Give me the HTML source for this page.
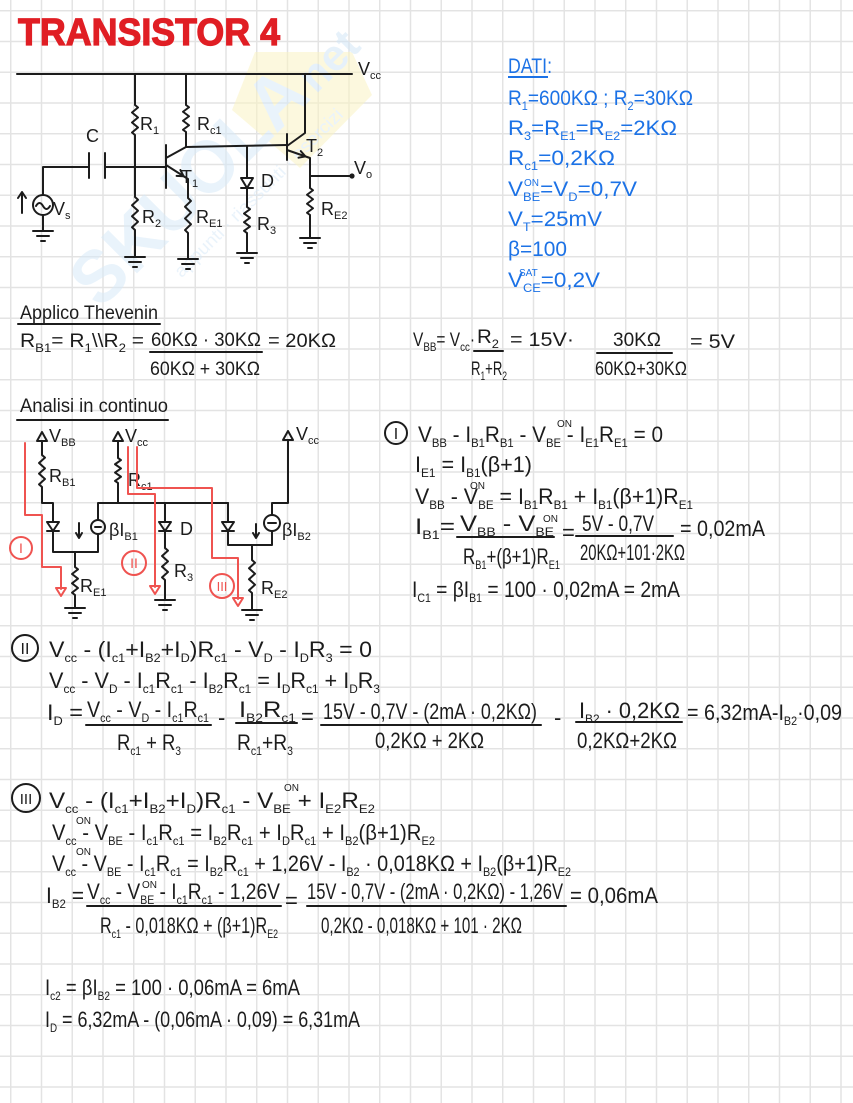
<!DOCTYPE html>
<html><head><meta charset="utf-8">
<style>
html,body{margin:0;padding:0;}
body{width:853px;height:1103px;overflow:hidden;background-color:#fff;
background-image:linear-gradient(90deg,#e3e3e3 1.4px,transparent 1.4px),linear-gradient(#e3e3e3 1.4px,transparent 1.4px);
background-size:30.75px 30.75px;background-position:10px 10px;}
svg{position:absolute;left:0;top:0;}
text{font-family:"Liberation Sans",sans-serif;}
.e{font-size:22px;fill:#1c1c1c;}
.m{font-size:19px;fill:#1c1c1c;}
.c{font-size:18px;fill:#1c1c1c;}
.b{font-size:21px;fill:#1c72e6;}
.s{font-size:12px;baseline-shift:-5px;}
.cs{font-size:11px;baseline-shift:-4px;}
.on{font-size:10px;fill:#1c1c1c;}
.w{fill:none;stroke:#1c1c1c;stroke-width:2;stroke-linecap:round;stroke-linejoin:round;}
.r{fill:none;stroke:#ef5350;stroke-width:2;stroke-linecap:round;stroke-linejoin:round;}
</style></head>
<body>
<svg width="853" height="1103" viewBox="0 0 853 1103" xmlns="http://www.w3.org/2000/svg">
<defs>
<path id="rz" d="M0 0 l3 2.5 l-6 5 l6 5 l-6 5 l6 5 l-6 5 l3 2.5" fill="none" stroke="#1c1c1c" stroke-width="2" stroke-linejoin="round" vector-effect="non-scaling-stroke"/>
<path id="gnd" d="M-10 0 H10 M-6 5 H6 M-2 10 H2" fill="none" stroke="#1c1c1c" stroke-width="2" stroke-linecap="round"/>
</defs>

<!-- watermark -->
<g opacity="0.55">
<polygon points="255,52 352,52 372,95 300,168 232,110" fill="#fbf4c4"/>
<g transform="rotate(-45 185 190)">
<text x="40" y="215" font-size="74" font-weight="bold" fill="#d8eaf8" textLength="300" lengthAdjust="spacingAndGlyphs">SKUOLA</text>
<text x="345" y="215" font-size="44" font-weight="bold" fill="#d3e6f6">net</text>
<text x="120" y="250" font-size="18" fill="#d9eaf8" textLength="230" lengthAdjust="spacingAndGlyphs">appunti · riassunti · esercizi</text>
</g>
</g>

<!-- title -->
<text x="18" y="45" font-size="38" font-weight="bold" fill="#e01e24" stroke="#e01e24" stroke-width="1.2" textLength="262" lengthAdjust="spacingAndGlyphs">TRANSISTOR 4</text>

<!-- ===== Circuit 1 ===== -->
<path class="w" d="M17 74 H352"/>
<path class="w" d="M135 74 V105 M135 135 V197 M135 230 V257"/>
<use href="#rz" transform="translate(135 105)"/>
<use href="#rz" transform="translate(135 197) scale(1 1.1)"/>
<use href="#gnd" transform="translate(135 257)"/>
<path class="w" d="M186 74 V105 M186 132 V147 L287 145"/>
<use href="#rz" transform="translate(186 105) scale(1 0.9)"/>
<path class="w" d="M43 195 V167 H89 M89 153 V178 M105 153 V178 M105 167 H166"/>
<circle cx="43" cy="205" r="10" class="w"/>
<path class="w" d="M36 206 q3.5 -6 7 0 t7 0" stroke-width="1.6"/>
<path class="w" d="M43 215 V230"/>
<use href="#gnd" transform="translate(43 231)"/>
<path class="w" d="M22 213 V193 M18 198 L22 192 L26 198"/>
<path class="w" d="M166 145 V188" stroke-width="2.6"/>
<path class="w" d="M166 158 L186 147 M166 165 L188 179 V198 M188 233 V259"/>
<path class="w" d="M180.4 170 L183.6 176.2 L176.6 175.9"/>
<use href="#rz" transform="translate(188 198) scale(1 1.167)"/>
<use href="#gnd" transform="translate(188 259)"/>
<path class="w" d="M247 146 V178 M241 178 H253 L247 188 Z M241 188 H253 M247 188 V207 M247 233 V253"/>
<use href="#rz" transform="translate(247 207) scale(1 0.867)"/>
<use href="#gnd" transform="translate(247 253)"/>
<path class="w" d="M287 134 V160" stroke-width="2.6"/>
<path class="w" d="M287 146 L305 133 V74 M287 150 L310 158 V188 M310 215 V238 M310 176 H352"/>
<path class="w" d="M300.8 151.1 L305.4 156.4 L298.5 157.7"/>
<use href="#rz" transform="translate(310 188) scale(1 0.9)"/>
<use href="#gnd" transform="translate(310 238)"/>
<circle cx="352" cy="176" r="2.6" fill="#1c1c1c"/>

<text class="c" x="358" y="75">V<tspan class="cs">cc</tspan></text>
<text class="c" x="140" y="130">R<tspan class="cs">1</tspan></text>
<text class="c" x="197" y="130">R<tspan class="cs">c1</tspan></text>
<text class="c" x="86" y="142" font-size="20">C</text>
<text class="c" x="181" y="183">T<tspan class="cs">1</tspan></text>
<text class="c" x="261" y="187">D</text>
<text class="c" x="306" y="152">T<tspan class="cs">2</tspan></text>
<text class="c" x="354" y="174">V<tspan class="cs">o</tspan></text>
<text class="c" x="53" y="215" font-size="20">V<tspan class="cs">s</tspan></text>
<text class="c" x="142" y="223">R<tspan class="cs">2</tspan></text>
<text class="c" x="196" y="223">R<tspan class="cs">E1</tspan></text>
<text class="c" x="257" y="230">R<tspan class="cs">3</tspan></text>
<text class="c" x="321" y="215">R<tspan class="cs">E2</tspan></text>

<!-- ===== DATI ===== -->
<text class="b" x="508" y="73" font-size="18" textLength="44" lengthAdjust="spacingAndGlyphs">DATI:</text>
<path d="M508 77 H548" stroke="#1c72e6" stroke-width="2"/>
<text class="b" x="508" y="105" textLength="185" lengthAdjust="spacingAndGlyphs">R<tspan class="s">1</tspan>=600KΩ ; R<tspan class="s">2</tspan>=30KΩ</text>
<text class="b" x="508" y="135" textLength="169" lengthAdjust="spacingAndGlyphs">R<tspan class="s">3</tspan>=R<tspan class="s">E1</tspan>=R<tspan class="s">E2</tspan>=2KΩ</text>
<text class="b" x="508" y="165" textLength="107" lengthAdjust="spacingAndGlyphs">R<tspan class="s">c1</tspan>=0,2KΩ</text>
<text class="b" x="508" y="196" textLength="129" lengthAdjust="spacingAndGlyphs">V<tspan class="s">BE</tspan>=V<tspan class="s">D</tspan>=0,7V</text>
<text x="524" y="186" font-size="10" fill="#1c72e6">ON</text>
<text class="b" x="508" y="226" textLength="94" lengthAdjust="spacingAndGlyphs">V<tspan class="s">T</tspan>=25mV</text>
<text class="b" x="508" y="256" textLength="59" lengthAdjust="spacingAndGlyphs">β=100</text>
<text class="b" x="508" y="287" textLength="92" lengthAdjust="spacingAndGlyphs">V<tspan class="s">CE</tspan>=0,2V</text>
<text x="519" y="276" font-size="10" fill="#1c72e6">SAT</text>

<!-- ===== Thevenin ===== -->
<text class="m" x="20" y="319" textLength="138" lengthAdjust="spacingAndGlyphs">Applico Thevenin</text>
<path class="w" d="M18 324 H160"/>
<text class="m" x="20" y="347" textLength="124" lengthAdjust="spacingAndGlyphs">R<tspan class="s">B1</tspan>= R<tspan class="s">1</tspan>\\R<tspan class="s">2</tspan> =</text>
<text class="m" x="151" y="346" textLength="110" lengthAdjust="spacingAndGlyphs">60KΩ · 30KΩ</text>
<path class="w" d="M150 352 H262"/>
<text class="m" x="150" y="375" textLength="110" lengthAdjust="spacingAndGlyphs">60KΩ + 30KΩ</text>
<text class="m" x="268" y="347" textLength="68" lengthAdjust="spacingAndGlyphs">= 20KΩ</text>
<text class="m" x="413" y="346" textLength="62" lengthAdjust="spacingAndGlyphs">V<tspan class="s">BB</tspan>= V<tspan class="s">cc</tspan>·</text>
<text class="m" x="477" y="343" textLength="22" lengthAdjust="spacingAndGlyphs">R<tspan class="s">2</tspan></text>
<path class="w" d="M474 351 H503"/>
<text class="m" x="471" y="375" textLength="36" lengthAdjust="spacingAndGlyphs">R<tspan class="s">1</tspan>+R<tspan class="s">2</tspan></text>
<text class="m" x="510" y="346" textLength="64" lengthAdjust="spacingAndGlyphs">= 15V·</text>
<text class="m" x="613" y="346" textLength="48" lengthAdjust="spacingAndGlyphs">30KΩ</text>
<path class="w" d="M597 353 H672"/>
<text class="m" x="595" y="375" textLength="92" lengthAdjust="spacingAndGlyphs">60KΩ+30KΩ</text>
<text class="m" x="690" y="348" textLength="45" lengthAdjust="spacingAndGlyphs">= 5V</text>

<text class="m" x="20" y="412" textLength="148" lengthAdjust="spacingAndGlyphs">Analisi in continuo</text>
<path class="w" d="M17 420 H168"/>

<!-- ===== Circuit 2 ===== -->
<path class="w" d="M37 441 L42 432 L47 441 Z M42 441 V455 M42 487 V503 H53 V522 M47 522 H59 L53 531 Z M47 531 H59 M53 531 V552 H98 V534 M98 520 V503 H228 M95 527 H101"/>
<use href="#rz" transform="translate(42 455) scale(1 1.067)"/>
<circle cx="98" cy="527" r="7" class="w"/>
<path class="w" d="M79 523 V537 M76 533 L79 538 L82 533"/>
<path class="w" d="M75 552 V567 M75 595 V608"/>
<use href="#rz" transform="translate(75 567) scale(1 0.933)"/>
<use href="#gnd" transform="translate(75 608)"/>
<path class="w" d="M113 441 L118 432 L123 441 Z M118 441 V458 M118 483 V503"/>
<use href="#rz" transform="translate(118 458) scale(1 0.833)"/>
<path class="w" d="M165 503 V522 M159 522 H171 L165 531 Z M159 531 H171 M165 531 V548 M165 580 V600"/>
<use href="#rz" transform="translate(165 548) scale(1 1.067)"/>
<use href="#gnd" transform="translate(165 600)"/>
<path class="w" d="M283 440 L288 431 L293 440 Z M288 440 V503 H272 V515 M268 523 H276 M272 531 V545 H228 V531 M222 522 H234 L228 531 Z M222 531 H234 M228 522 V503"/>
<circle cx="272" cy="523" r="8" class="w"/>
<path class="w" d="M256 524 V537 M253 533 L256 538 L259 533"/>
<path class="w" d="M252 545 V560 M252 593 V610"/>
<use href="#rz" transform="translate(252 560) scale(1 1.1)"/>
<use href="#gnd" transform="translate(252 610)"/>

<text class="c" x="49" y="442" font-size="17">V<tspan class="cs">BB</tspan></text>
<text class="c" x="125" y="442" font-size="17">V<tspan class="cs">cc</tspan></text>
<text class="c" x="296" y="440" font-size="17">V<tspan class="cs">cc</tspan></text>
<text class="c" x="49" y="482">R<tspan class="cs">B1</tspan></text>
<text class="c" x="128" y="486">R<tspan class="cs">c1</tspan></text>
<text class="c" x="109" y="536">βI<tspan class="cs">B1</tspan></text>
<text class="c" x="180" y="535" font-size="16">D</text>
<text class="c" x="174" y="577">R<tspan class="cs">3</tspan></text>
<text class="c" x="282" y="536">βI<tspan class="cs">B2</tspan></text>
<text class="c" x="80" y="592">R<tspan class="cs">E1</tspan></text>
<text class="c" x="261" y="594">R<tspan class="cs">E2</tspan></text>

<!-- red loops -->
<path class="r" d="M25 443 V515 H42 V567 H61 V589 M56 588 L66 588 L61 596 Z"/>
<path class="r" d="M128 447 V494 H155 V587 M150 586 L160 586 L155 594 Z"/>
<path class="r" d="M137 447 V488 H212 V558 H238 V599 M233 598 L243 598 L238 606 Z"/>
<circle cx="21" cy="548" r="11" class="r" stroke-width="1.6"/>
<text x="21" y="553" font-family="Liberation Serif" font-size="14" fill="#ef5350" text-anchor="middle">I</text>
<circle cx="134" cy="563" r="12" class="r" stroke-width="1.6"/>
<text x="134" y="568" font-family="Liberation Serif" font-size="14" fill="#ef5350" text-anchor="middle">II</text>
<circle cx="222" cy="586" r="12" class="r" stroke-width="1.6"/>
<text x="222" y="591" font-family="Liberation Serif" font-size="13" fill="#ef5350" text-anchor="middle">III</text>

<!-- ===== Block I ===== -->
<circle cx="396" cy="433" r="11" class="w" stroke-width="1.8"/>
<text x="396" y="439" font-family="Liberation Serif" font-size="16" fill="#1c1c1c" text-anchor="middle">I</text>
<text class="e" x="418" y="442" textLength="245" lengthAdjust="spacingAndGlyphs">V<tspan class="s">BB</tspan> - I<tspan class="s">B1</tspan>R<tspan class="s">B1</tspan> - V<tspan class="s">BE</tspan> - I<tspan class="s">E1</tspan>R<tspan class="s">E1</tspan> = 0</text>
<text class="on" x="557" y="427">ON</text>
<text class="e" x="415" y="472" textLength="117" lengthAdjust="spacingAndGlyphs">I<tspan class="s">E1</tspan> = I<tspan class="s">B1</tspan>(β+1)</text>
<text class="e" x="415" y="504" textLength="278" lengthAdjust="spacingAndGlyphs">V<tspan class="s">BB</tspan> - V<tspan class="s">BE</tspan> = I<tspan class="s">B1</tspan>R<tspan class="s">B1</tspan> + I<tspan class="s">B1</tspan>(β+1)R<tspan class="s">E1</tspan></text>
<text class="on" x="470" y="489">ON</text>
<text class="e" x="415" y="534" textLength="40" lengthAdjust="spacingAndGlyphs">I<tspan class="s">B1</tspan>=</text>
<text class="e" x="460" y="531" textLength="94" lengthAdjust="spacingAndGlyphs">V<tspan class="s">BB</tspan> - V<tspan class="s">BE</tspan></text>
<text class="on" x="543" y="522">ON</text>
<path class="w" d="M457 537 H554"/>
<text class="e" x="463" y="564" textLength="97" lengthAdjust="spacingAndGlyphs">R<tspan class="s">B1</tspan>+(β+1)R<tspan class="s">E1</tspan></text>
<text class="e" x="562" y="540">=</text>
<text class="e" x="582" y="531" textLength="72" lengthAdjust="spacingAndGlyphs">5V - 0,7V</text>
<path class="w" d="M576 536 H673"/>
<text class="e" x="580" y="560" font-size="19" textLength="105" lengthAdjust="spacingAndGlyphs">20KΩ+101·2KΩ</text>
<text class="e" x="680" y="536" textLength="85" lengthAdjust="spacingAndGlyphs">= 0,02mA</text>
<text class="e" x="412" y="597" textLength="268" lengthAdjust="spacingAndGlyphs">I<tspan class="s">C1</tspan> = βI<tspan class="s">B1</tspan> = 100 · 0,02mA = 2mA</text>

<!-- ===== Block II ===== -->
<circle cx="25" cy="648" r="13" class="w" stroke-width="1.8"/>
<text x="25" y="654" font-family="Liberation Serif" font-size="16" fill="#1c1c1c" text-anchor="middle">II</text>
<text class="e" x="49" y="657" textLength="323" lengthAdjust="spacingAndGlyphs">V<tspan class="s">cc</tspan> - (I<tspan class="s">c1</tspan>+I<tspan class="s">B2</tspan>+I<tspan class="s">D</tspan>)R<tspan class="s">c1</tspan> - V<tspan class="s">D</tspan> - I<tspan class="s">D</tspan>R<tspan class="s">3</tspan> = 0</text>
<text class="e" x="49" y="688" textLength="331" lengthAdjust="spacingAndGlyphs">V<tspan class="s">cc</tspan> - V<tspan class="s">D</tspan> - I<tspan class="s">c1</tspan>R<tspan class="s">c1</tspan> - I<tspan class="s">B2</tspan>R<tspan class="s">c1</tspan> = I<tspan class="s">D</tspan>R<tspan class="s">c1</tspan> + I<tspan class="s">D</tspan>R<tspan class="s">3</tspan></text>
<text class="e" x="47" y="720" textLength="36" lengthAdjust="spacingAndGlyphs">I<tspan class="s">D</tspan> =</text>
<text class="e" x="87" y="717" textLength="122" lengthAdjust="spacingAndGlyphs">V<tspan class="s">cc</tspan> - V<tspan class="s">D</tspan> - I<tspan class="s">c1</tspan>R<tspan class="s">c1</tspan></text>
<path class="w" d="M86 725 H211"/>
<text class="e" x="117" y="750" textLength="64" lengthAdjust="spacingAndGlyphs">R<tspan class="s">c1</tspan> + R<tspan class="s">3</tspan></text>
<text class="e" x="218" y="725">-</text>
<text class="e" x="239" y="717" textLength="57" lengthAdjust="spacingAndGlyphs">I<tspan class="s">B2</tspan>R<tspan class="s">c1</tspan></text>
<path class="w" d="M236 723 H297"/>
<text class="e" x="237" y="750" textLength="56" lengthAdjust="spacingAndGlyphs">R<tspan class="s">c1</tspan>+R<tspan class="s">3</tspan></text>
<text class="e" x="301" y="724">=</text>
<text class="e" x="323" y="719" textLength="214" lengthAdjust="spacingAndGlyphs">15V - 0,7V - (2mA · 0,2KΩ)</text>
<path class="w" d="M321 725 H541"/>
<text class="e" x="375" y="748" textLength="109" lengthAdjust="spacingAndGlyphs">0,2KΩ + 2KΩ</text>
<text class="e" x="554" y="725">-</text>
<text class="e" x="579" y="718" textLength="101" lengthAdjust="spacingAndGlyphs">I<tspan class="s">B2</tspan> · 0,2KΩ</text>
<path class="w" d="M576 722 H682"/>
<text class="e" x="577" y="748" textLength="100" lengthAdjust="spacingAndGlyphs">0,2KΩ+2KΩ</text>
<text class="e" x="687" y="720" font-size="19" textLength="155" lengthAdjust="spacingAndGlyphs">= 6,32mA-I<tspan class="s">B2</tspan>·0,09</text>

<!-- ===== Block III ===== -->
<circle cx="26" cy="798" r="14" class="w" stroke-width="1.8"/>
<text x="26" y="804" font-family="Liberation Serif" font-size="15" fill="#1c1c1c" text-anchor="middle">III</text>
<text class="e" x="49" y="808" textLength="326" lengthAdjust="spacingAndGlyphs">V<tspan class="s">cc</tspan> - (I<tspan class="s">c1</tspan>+I<tspan class="s">B2</tspan>+I<tspan class="s">D</tspan>)R<tspan class="s">c1</tspan> - V<tspan class="s">BE</tspan> + I<tspan class="s">E2</tspan>R<tspan class="s">E2</tspan></text>
<text class="on" x="284" y="791">ON</text>
<text class="e" x="52" y="840" textLength="383" lengthAdjust="spacingAndGlyphs">V<tspan class="s">cc</tspan> - V<tspan class="s">BE</tspan> - I<tspan class="s">c1</tspan>R<tspan class="s">c1</tspan> = I<tspan class="s">B2</tspan>R<tspan class="s">c1</tspan> + I<tspan class="s">D</tspan>R<tspan class="s">c1</tspan> + I<tspan class="s">B2</tspan>(β+1)R<tspan class="s">E2</tspan></text>
<text class="on" x="76" y="824">ON</text>
<text class="e" x="52" y="871" textLength="519" lengthAdjust="spacingAndGlyphs">V<tspan class="s">cc</tspan> - V<tspan class="s">BE</tspan> - I<tspan class="s">c1</tspan>R<tspan class="s">c1</tspan> = I<tspan class="s">B2</tspan>R<tspan class="s">c1</tspan> + 1,26V - I<tspan class="s">B2</tspan> · 0,018KΩ + I<tspan class="s">B2</tspan>(β+1)R<tspan class="s">E2</tspan></text>
<text class="on" x="76" y="855">ON</text>
<text class="e" x="46" y="903" textLength="38" lengthAdjust="spacingAndGlyphs">I<tspan class="s">B2</tspan> =</text>
<text class="e" x="87" y="899" textLength="193" lengthAdjust="spacingAndGlyphs">V<tspan class="s">cc</tspan> - V<tspan class="s">BE</tspan> - I<tspan class="s">c1</tspan>R<tspan class="s">c1</tspan> - 1,26V</text>
<text class="on" x="142" y="888">ON</text>
<path class="w" d="M87 906 H281"/>
<text class="e" x="100" y="933" textLength="178" lengthAdjust="spacingAndGlyphs">R<tspan class="s">c1</tspan> - 0,018KΩ + (β+1)R<tspan class="s">E2</tspan></text>
<text class="e" x="285" y="908">=</text>
<text class="e" x="307" y="899" textLength="256" lengthAdjust="spacingAndGlyphs">15V - 0,7V - (2mA · 0,2KΩ) - 1,26V</text>
<path class="w" d="M307 906 H566"/>
<text class="e" x="321" y="933" textLength="201" lengthAdjust="spacingAndGlyphs">0,2KΩ - 0,018KΩ + 101 · 2KΩ</text>
<text class="e" x="570" y="903" textLength="88" lengthAdjust="spacingAndGlyphs">= 0,06mA</text>

<!-- final -->
<text class="e" x="45" y="995" textLength="255" lengthAdjust="spacingAndGlyphs">I<tspan class="s">c2</tspan> = βI<tspan class="s">B2</tspan> = 100 · 0,06mA = 6mA</text>
<text class="e" x="45" y="1027" textLength="315" lengthAdjust="spacingAndGlyphs">I<tspan class="s">D</tspan> = 6,32mA - (0,06mA · 0,09) = 6,31mA</text>
</svg>
</body></html>
